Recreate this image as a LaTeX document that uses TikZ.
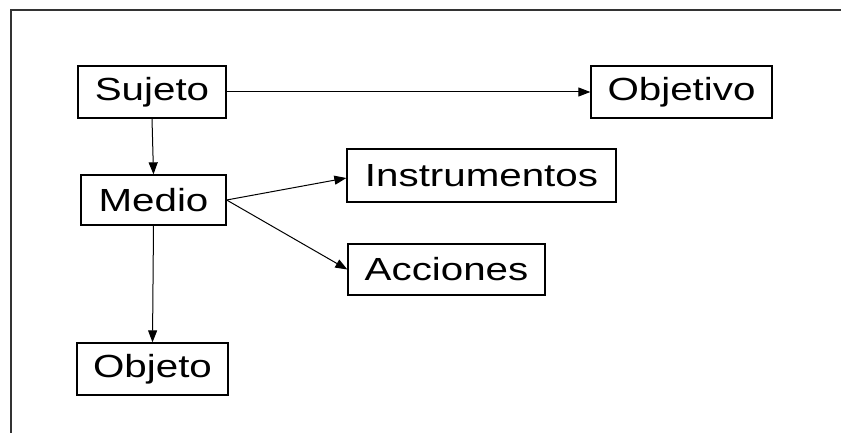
\documentclass[tikz,border=0pt]{standalone}
\usepackage{fontspec}
\setmainfont{Liberation Sans}[FakeStretch=1.26]
\usetikzlibrary{arrows.meta}
\begin{document}
\begin{tikzpicture}[x=1pt,y=-1pt,
  box/.style={draw=black,line width=1.3pt,inner sep=0pt,font=\fontsize{32}{32}\selectfont},
  arr/.style={draw=black,line width=1pt,-{Triangle[length=12pt,width=9pt]}}]
\useasboundingbox (0,0) rectangle (841,433);
\draw[line width=1.4pt,draw=black!80] (11,433) -- (11,10) -- (841,10);
\node[box,minimum width=148pt,minimum height=52pt] (Sujeto) at (152,92) {Sujeto};
\node[box,minimum width=181pt,minimum height=52pt] (Objetivo) at (681.5,92) {Objetivo};
\node[box,minimum width=145pt,minimum height=50pt] (Medio) at (153.5,200) {Medio};
\node[box,minimum width=269pt,minimum height=53pt] (Instrumentos) at (481.5,175.5) {Instrumentos};
\node[box,minimum width=197pt,minimum height=51pt] (Acciones) at (446.5,269.5) {Acciones};
\node[box,minimum width=151pt,minimum height=52pt] (Objeto) at (152.5,369) {Objeto};
\draw[arr] (Sujeto.east) -- (Objetivo.west);
\draw[arr] (Sujeto.south) -- (Medio.north);
\draw[arr] (Medio.south) -- (Objeto.north);
\draw[arr] (Medio.east) -- ([yshift=-2.5pt]Instrumentos.west);
\draw[arr] (Medio.east) -- (Acciones.west);
\end{tikzpicture}
\end{document}
